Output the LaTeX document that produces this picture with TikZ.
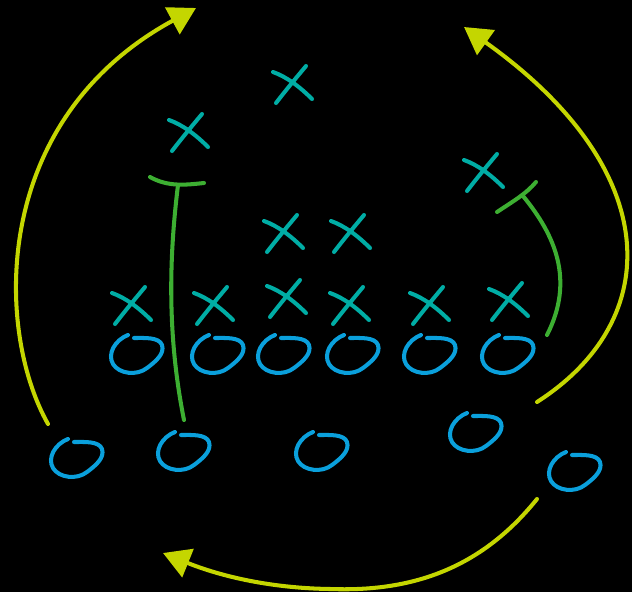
\documentclass[tikz,border=0pt]{standalone}
\usepackage{tikz}
\usetikzlibrary{arrows.meta}

\definecolor{oblue}{HTML}{0AA0DC}
\definecolor{xteal}{HTML}{00ADA5}
\definecolor{rgreen}{HTML}{3DAF32}
\definecolor{ayellow}{HTML}{C4D600}

\tikzset{
    oline/.style={oblue, line width=2.3pt, line cap=round},
    xline/.style={xteal, line width=2.3pt, line cap=round},
    route/.style={rgreen, line width=2.3pt, line cap=round},
    sweep/.style={ayellow, line width=2.3pt, line cap=round, -{Triangle[length=0.54cm,width=0.6cm]}},
    player/.pic={\draw[oline] (-9,-19) .. controls (-22,-14) and (-30,0) .. (-24,10) .. controls (-18,20) and (0,22) .. (10,14) .. controls (18,8) and (28,0) .. (25,-9) .. controls (22,-17) and (8,-16) .. (-3,-16);},
    defender/.pic={\draw[xline] (-19,-12) .. controls (-5,-7) and (8,3) .. (20,15); \draw[xline] (-16,19) .. controls (-6,6) and (4,-6) .. (14,-18);}
}

\begin{document}
\begin{tikzpicture}[x=0.02cm, y=-0.02cm]
    % background
    \fill[black] (0,0) rectangle (632,592);
    \useasboundingbox (0,0) rectangle (632,592);

    % Defenders
    \pic at (292,84) {defender};
    \pic at (188,132) {defender};
    \pic at (483,172) {defender};
    \pic at (283,233) {defender};
    \pic at (350,233) {defender};
    \pic at (131,305) {defender};
    \pic at (213,305) {defender};
    \pic at (286,298) {defender};
    \pic at (349,305) {defender};
    \pic at (429,305) {defender};
    \pic at (508,301) {defender};

    % Offensive line
    \pic at (137,354) {player};
    \pic at (218,354) {player};
    \pic at (284,354) {player};
    \pic at (353,354) {player};
    \pic at (430,354) {player};
    \pic at (508,354) {player};

    % Backs
    \pic at (77,458) {player};
    \pic at (184,451) {player};
    \pic at (322,451) {player};
    \pic at (476,432) {player};
    \pic at (575,471) {player};

    % Routes
    \coordinate (r1s) at (184,420);
    \coordinate (r1e) at (178,185);
    \draw[route] (r1s) .. controls (166,330) and (170,250) .. (r1e);
    \draw[route] (150,177) .. controls (168,187) and (185,185) .. (204,183);
    \coordinate (r2s) at (547,335);
    \coordinate (r2e) at (523,196);
    \draw[route] (r2s) .. controls (575,280) and (555,235) .. (r2e);
    \draw[route] (497,212) .. controls (512,202) and (526,194) .. (536,182);

    % Sweeps
    \coordinate (s1s) at (48,424);
    \coordinate (s1e) at (196,8);
    \draw[sweep] (s1s) .. controls (-5,330) and (-10,120) .. (s1e);
    \coordinate (s2s) at (537,402);
    \coordinate (s2e) at (464,27);
    \draw[sweep] (s2s) .. controls (665,320) and (665,170) .. (s2e);
    \coordinate (s3s) at (537,499);
    \coordinate (s3m) at (330,589);
    \coordinate (s3e) at (163,553);
    \draw[sweep] (s3s) .. controls (480,570) and (410,592) .. (s3m) .. controls (260,588) and (210,572) .. (s3e);
\end{tikzpicture}
\end{document}
